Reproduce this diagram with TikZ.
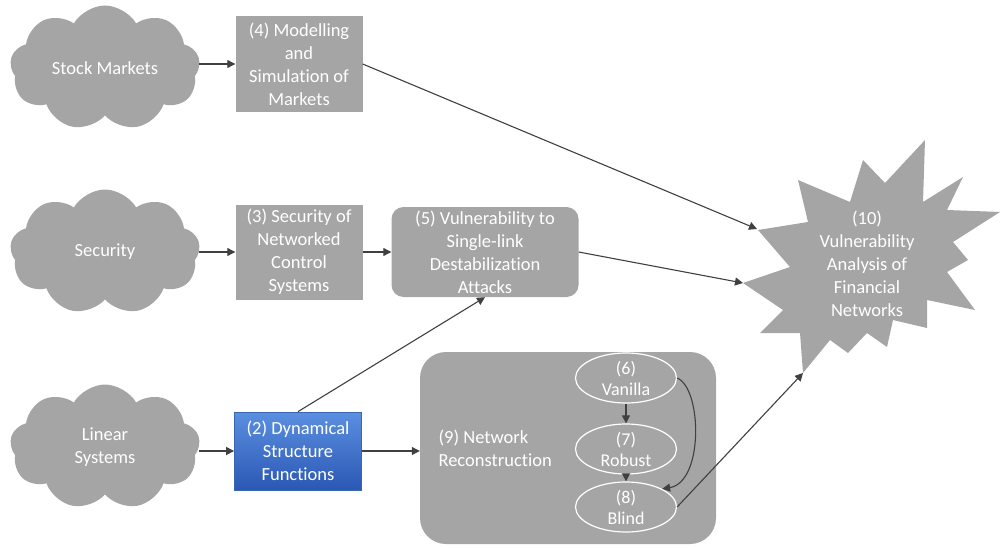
\documentclass[tikz,border=0pt]{standalone}
\usepackage{fontspec}
\setmainfont{Carlito}[Ligatures=NoCommon]
\usetikzlibrary{shapes.symbols,shapes.geometric,arrows.meta}
\definecolor{boxgray}{HTML}{A5A5A5}
\definecolor{linegray}{HTML}{404040}
\definecolor{bluetop}{HTML}{5B8FE0}
\definecolor{bluebot}{HTML}{2A58B5}
\definecolor{blueedge}{HTML}{3A66B0}
\tikzset{
  lbl/.style={text=white, font=\fontsize{18.5}{23}\selectfont, align=center},
  cloudnode/.style={cloud, cloud puffs=9, cloud puff arc=120, aspect=1.5,
    fill=boxgray, draw=none, lbl, minimum width=190pt, minimum height=125pt, inner sep=0pt},
  sqbox/.style={fill=boxgray, draw=none, lbl, inner sep=0pt},
  rbox/.style={sqbox, rounded corners=12pt},
  ell/.style={ellipse, fill=boxgray, draw=white, line width=1.2pt, lbl, inner sep=0pt,
    minimum width=101pt, minimum height=50pt, font=\fontsize{18}{21}\selectfont},
  conn/.style={draw=linegray, line width=1.1pt, -{Triangle[length=8pt,width=8pt]}}
}
\begin{document}
\begin{tikzpicture}[x=1pt,y=-1pt]
\useasboundingbox (0,0) rectangle (1000,548);

% source clouds
\node[cloudnode] (stock) at (105,68) {Stock Markets};
\node[cloudnode] (sec) at (105,252) {Security};
\node[cloudnode] (lin) at (105,447) {Linear\\Systems};

% project boxes
\node[sqbox, minimum width=127pt, minimum height=96pt] (model) at (299,64)
  {(4) Modelling\\and\\Simulation of\\Markets};
\node[sqbox, minimum width=127pt, minimum height=95pt] (ncs) at (299,252)
  {(3) Security of\\Networked\\Control\\Systems};
\node[rbox, minimum width=187pt, minimum height=90pt] (vul) at (485,252)
  {(5) Vulnerability to\\Single-link\\Destabilization\\Attacks};
\node[draw=blueedge, line width=0.8pt, top color=bluetop, bottom color=bluebot,
  lbl, inner sep=0pt, minimum width=127pt, minimum height=78pt] (dsf) at (298,451)
  {(2) Dynamical\\Structure\\Functions};

% network reconstruction group
\node[fill=boxgray, rounded corners=26pt, minimum width=296pt, minimum height=192pt,
  inner sep=0pt] (rec) at (568,448) {};
\node[lbl, align=left, anchor=west] (rectxt) at (435,448) {(9) Network\\Reconstruction};
\node[ell] (van) at (626,378) {(6)\\Vanilla};
\node[ell] (rob) at (626,449) {(7)\\Robust};
\node[ell] (bli) at (626,507) {(8)\\Blind};

% explosion
\fill[boxgray] (743,283) -- (790,267) -- (758,230) -- (808,222) -- (798,180)
  -- (850,202) -- (863,160) -- (885,183) -- (925,140) -- (923,202) -- (963,177)
  -- (947,210) -- (1000,212) -- (953,242) -- (968,260) -- (947,272) -- (975,310)
  -- (927,300) -- (927,328) -- (893,320) -- (887,347) -- (867,333) -- (848,353)
  -- (830,340) -- (803,373) -- (800,333) -- (760,333) -- (783,310) -- cycle;
\coordinate (tipA) at (757,229);
\coordinate (tipB) at (743,283);
\coordinate (tipC) at (803,373);
\node[lbl] (fin) at (867,264) {(10)\\Vulnerability\\Analysis of\\Financial\\Networks};

% connectors
\draw[conn] (stock.east |- model) -- (model.west);
\draw[conn] (sec.east |- ncs) -- (ncs.west);
\draw[conn] (ncs.east) -- (vul.west);
\draw[conn] (lin.east |- dsf) -- (dsf.west);
\draw[conn] (dsf.east) -- (rec.west |- dsf.east);
\draw[conn] (dsf.north) -- (vul.south);
\draw[conn] (model.east) -- (tipA);
\draw[conn] (vul.east) -- (tipB);
\draw[conn] (bli.east) -- (tipC);
\draw[conn] (van.south) -- (rob.north);
\draw[conn] (rob.south) -- (bli.north);
\draw[conn] (van.east) .. controls (702,388) and (704,482) .. (bli.north east);
\end{tikzpicture}
\end{document}
